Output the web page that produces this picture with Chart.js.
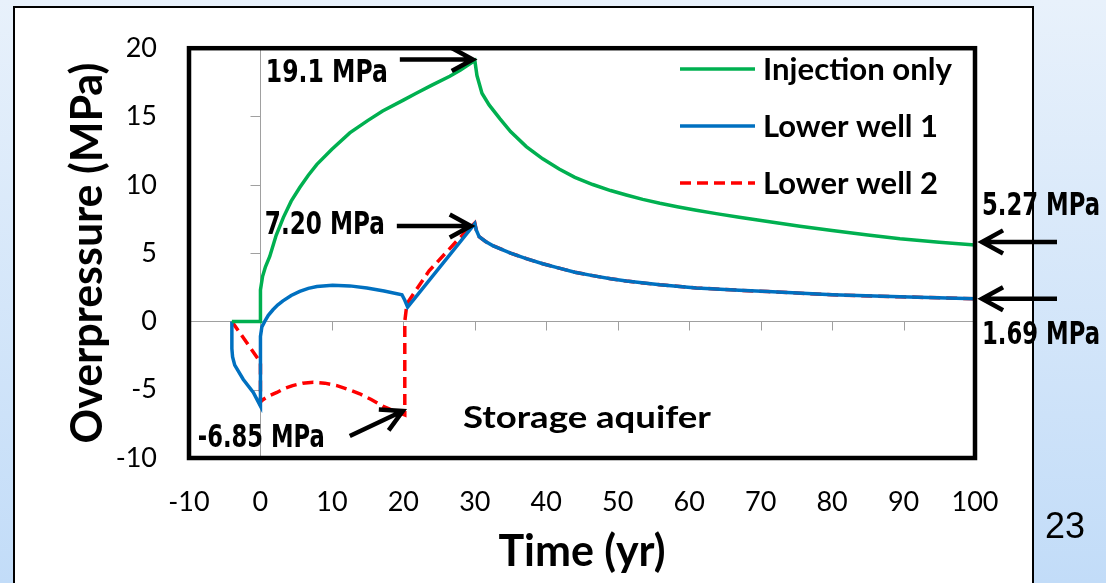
<!DOCTYPE html>
<html>
<head>
<meta charset="utf-8">
<script src="https://cdn.jsdelivr.net/npm/chart.js@4.4.1/dist/chart.umd.min.js"></script>
<style>
  html, body { margin: 0; padding: 0; background: #d6e8fb; }
  canvas { display: block; }
</style>
</head>
<body>
<canvas id="chart" width="1106" height="583"></canvas>
<script>
// time in years, overpressure in MPa
const injTime  = [-4, 0, 0, 0.3, 0.7, 1.3, 2.2, 3.2, 4.3, 5.5, 6.7, 7.9, 10, 12.5, 15, 17.1, 20, 21.8, 24, 26.5, 28, 30,
                  30.3, 31, 32, 33.5, 35, 37.2, 39.5, 41.8, 44, 46.5, 49, 51.2, 53.5, 55.9, 58.5, 61, 64, 67, 71,
                  75.5, 80, 85, 89.5, 95, 100];
const injValue = [0, 0, 2.3, 3.3, 4.0, 4.75, 6.3, 7.6, 8.8, 9.8, 10.7, 11.5, 12.6, 13.8, 14.7, 15.4, 16.2, 16.7, 17.3, 17.95, 18.4, 19.1,
                  18.0, 16.7, 15.85, 14.85, 13.9, 12.8, 11.9, 11.15, 10.55, 10.02, 9.58, 9.25, 8.93, 8.65, 8.38, 8.14, 7.87, 7.62, 7.31,
                  6.97, 6.65, 6.32, 6.05, 5.8, 5.6];

const well1Time  = [-4, -4, -3.9, -3.6, -2.4, -1.0, 0, 0, 0.2, 0.6, 1.1, 1.75, 2.4, 3.15, 4.3, 5.5, 6.7, 7.9, 10.1, 12.5, 14.9,
                    17.3, 19.8, 20.2, 20.6, 30, 30.2, 30.6, 31.5, 32.5, 35, 37.2, 39.5, 41.8, 44, 46.5, 49, 51.2, 55.9,
                    61, 67, 71, 80, 89.5, 100];
const well1Value = [0, -2.0, -2.6, -3.2, -4.25, -5.2, -6.2, -1.1, -0.4, 0.0, 0.45, 0.85, 1.2, 1.5, 1.9, 2.2, 2.42, 2.55, 2.65, 2.6, 2.45,
                    2.22, 1.95, 1.55, 1.05, 7.15, 6.7, 6.2, 5.85, 5.55, 5.0, 4.6, 4.22, 3.9, 3.6, 3.35, 3.12, 2.95, 2.68,
                    2.45, 2.28, 2.18, 1.95, 1.8, 1.66];

const well2Time  = [-4, 0, 0, 0.3, 1.2, 2.3, 3.3, 4.5, 5.9, 7.4, 9, 10.7, 12.3, 13.9, 15.5, 17.1, 18.7, 20.2, 20.2, 20.5,
                    23.6, 27.5, 30, 30.2, 30.6, 31.5, 32.5, 35, 37.2, 39.5, 41.8, 44, 46.5, 49, 51.2, 55.9,
                    61, 67, 71, 80, 89.5, 100];
const well2Value = [0, -3.0, -5.9, -5.75, -5.45, -5.2, -4.92, -4.7, -4.52, -4.45, -4.52, -4.7, -4.98, -5.3, -5.72, -6.2, -6.55, -6.85, 0, 1.3,
                    3.7, 5.9, 7.2, 6.7, 6.2, 5.85, 5.55, 5.0, 4.6, 4.22, 3.9, 3.6, 3.35, 3.12, 2.95, 2.68,
                    2.45, 2.28, 2.18, 1.95, 1.8, 1.66];

const seriesNames = ['Injection only', 'Lower well 1', 'Lower well 2'];
const xTicks = [-10, 0, 10, 20, 30, 40, 50, 60, 70, 80, 90, 100];
const yTicks = [-10, -5, 0, 5, 10, 15, 20];

const toPoints = (t, v) => t.map((x, i) => ({ x: x, y: v[i] }));

// callouts: anchored on a data value, offsets in px
const callouts = [
  { text: '19.1 MPa', at: [30, 19.1], tip: [-2, -1], tail: [-75, -1], textX: -209, textY: 13, width: 122 },
  { text: '7.20 MPa', at: [30, 7.2], tip: [-4, 3], tail: [-78, 3], textX: -210, textY: 3, width: 120 },
  { text: '-6.85 MPa', at: [20.2, -6.85], tip: [-2, -4], tail: [-55, 21], textX: -207, textY: 24, width: 127 },
  { text: '5.27 MPa', at: [100, 5.6], tip: [7, -3], tail: [82, -3], textX: 7, textY: -38, width: 118 },
  { text: '1.69 MPa', at: [100, 1.66], tip: [7, 0], tail: [82, 0], textX: 7, textY: 37, width: 118 }
];

function fitText(ctx, text, x, y, width, font) {
  ctx.save();
  ctx.font = font;
  ctx.textBaseline = 'middle';
  ctx.textAlign = 'left';
  const w = ctx.measureText(text).width;
  ctx.translate(x, y);
  ctx.scale(width / w, 1);
  ctx.fillText(text, 0, 0);
  ctx.restore();
}

function arrow(ctx, x1, y1, x2, y2) {
  const ang = Math.atan2(y2 - y1, x2 - x1);
  const head = 24, spread = 0.5;
  ctx.beginPath();
  ctx.moveTo(x1, y1);
  ctx.lineTo(x2 - 3 * Math.cos(ang), y2 - 3 * Math.sin(ang));
  ctx.moveTo(x2 - head * Math.cos(ang - spread), y2 - head * Math.sin(ang - spread));
  ctx.lineTo(x2, y2);
  ctx.lineTo(x2 - head * Math.cos(ang + spread), y2 - head * Math.sin(ang + spread));
  ctx.stroke();
}

const slidePlugin = {
  id: 'slide',
  beforeDraw(chart) {
    const ctx = chart.ctx;
    ctx.save();
    const g = ctx.createLinearGradient(0, 0, 0, chart.height);
    g.addColorStop(0, '#e8f1fb');
    g.addColorStop(1, '#c2dcf8');
    ctx.fillStyle = g;
    ctx.fillRect(0, 0, chart.width, chart.height);
    ctx.fillStyle = '#ffffff';
    ctx.fillRect(14, 7, 1019, 620);
    ctx.strokeStyle = '#000000';
    ctx.lineWidth = 2;
    ctx.strokeRect(14, 7, 1019, 620);
    ctx.restore();
  },
  beforeDatasetsDraw(chart) {
    const ctx = chart.ctx;
    const area = chart.chartArea;
    const xs = chart.scales.x, ys = chart.scales.y;
    const x0 = Math.round(xs.getPixelForValue(0)) + 0.5;
    const y0 = Math.round(ys.getPixelForValue(0)) + 0.5;
    ctx.save();
    ctx.strokeStyle = '#a0a0a0';
    ctx.lineWidth = 1;
    ctx.beginPath();
    ctx.moveTo(area.left, y0); ctx.lineTo(area.right, y0);
    ctx.moveTo(x0, area.top); ctx.lineTo(x0, area.bottom);
    xTicks.forEach(v => {
      const px = Math.round(xs.getPixelForValue(v)) + 0.5;
      ctx.moveTo(px, y0); ctx.lineTo(px, y0 + 9);
    });
    yTicks.forEach(v => {
      const py = Math.round(ys.getPixelForValue(v)) + 0.5;
      ctx.moveTo(x0 - 10, py); ctx.lineTo(x0, py);
    });
    ctx.stroke();
    ctx.restore();
  },
  afterDatasetsDraw(chart) {
    const ctx = chart.ctx;
    const area = chart.chartArea;
    ctx.save();
    ctx.strokeStyle = '#000000';
    ctx.lineWidth = 4.5;
    ctx.strokeRect(area.left, area.top, area.right - area.left, area.bottom - area.top);
    ctx.restore();
  },
  afterDraw(chart) {
    const ctx = chart.ctx;
    const xs = chart.scales.x, ys = chart.scales.y;
    ctx.save();
    // legend
    chart.data.datasets.forEach((ds, i) => {
      const y = 69 + i * 57;
      ctx.strokeStyle = ds.borderColor;
      ctx.lineWidth = ds.borderWidth;
      ctx.setLineDash(ds.borderDash || []);
      ctx.beginPath();
      ctx.moveTo(680, y); ctx.lineTo(755, y);
      ctx.stroke();
      ctx.setLineDash([]);
      ctx.fillStyle = '#000000';
      fitText(ctx, ds.label, 763, y + 1, i === 0 ? 189 : 175, 'bold 30px Lato, "Open Sans", sans-serif');
    });
    // callouts
    ctx.strokeStyle = '#000000';
    ctx.fillStyle = '#000000';
    ctx.lineWidth = 4.5;
    ctx.lineJoin = 'miter';
    callouts.forEach(c => {
      const px = xs.getPixelForValue(c.at[0]);
      const py = ys.getPixelForValue(c.at[1]);
      arrow(ctx, px + c.tail[0], py + c.tail[1], px + c.tip[0], py + c.tip[1]);
      fitText(ctx, c.text, px + c.textX, py + c.textY, c.width,
        'bold 32px "Liberation Sans Narrow", "DejaVu Sans Condensed", Arial, sans-serif');
    });
    fitText(ctx, 'Storage aquifer', 463, 418, 248, 'bold 30px Lato, "Open Sans", sans-serif');
    fitText(ctx, '23', 1045, 528, 40, '37px "Liberation Sans", Arial, sans-serif');
    ctx.restore();
  }
};

new Chart(document.getElementById('chart'), {
  type: 'line',
  data: {
    datasets: [
      {
        label: seriesNames[0],
        data: toPoints(injTime, injValue),
        borderColor: '#00b050',
        borderWidth: 3.5,
        pointRadius: 0,
        tension: 0
      },
      {
        label: seriesNames[1],
        data: toPoints(well1Time, well1Value),
        borderColor: '#0070c0',
        borderWidth: 3.5,
        pointRadius: 0,
        tension: 0
      },
      {
        label: seriesNames[2],
        data: toPoints(well2Time, well2Value),
        borderColor: '#ff0000',
        borderWidth: 3.5,
        borderDash: [11, 6],
        pointRadius: 0,
        tension: 0
      }
    ]
  },
  options: {
    responsive: false,
    animation: false,
    devicePixelRatio: 1,
    layout: { padding: { left: 0, top: 42, right: 131, bottom: 0 } },
    plugins: {
      legend: { display: false },
      tooltip: { enabled: false }
    },
    scales: {
      x: {
        type: 'linear',
        min: -10,
        max: 100,
        afterBuildTicks: s => { s.ticks = xTicks.map(v => ({ value: v })); },
        afterFit: s => { s.height = 125; },
        grid: { display: false, drawTicks: false },
        border: { display: false },
        ticks: {
          autoSkip: false,
          maxRotation: 0,
          padding: 28,
          color: '#000000',
          font: { family: 'Lato', size: 27 }
        },
        title: {
          display: true,
          text: 'Time (yr)',
          color: '#000000',
          padding: { top: 0, bottom: 5 },
          font: { family: 'Lato', size: 43, weight: 'bold' }
        }
      },
      y: {
        min: -10,
        max: 20,
        afterBuildTicks: s => { s.ticks = yTicks.map(v => ({ value: v })); },
        afterFit: s => { s.width = 189; },
        grid: { display: false, drawTicks: false },
        border: { display: false },
        ticks: {
          padding: 32,
          color: '#000000',
          font: { family: 'Lato', size: 27 }
        },
        title: {
          display: true,
          text: 'Overpressure (MPa)',
          color: '#000000',
          padding: { top: 62, bottom: 0 },
          font: { family: 'Lato', size: 43, weight: 'bold' }
        }
      }
    }
  },
  plugins: [slidePlugin]
});
</script>
</body>
</html>
